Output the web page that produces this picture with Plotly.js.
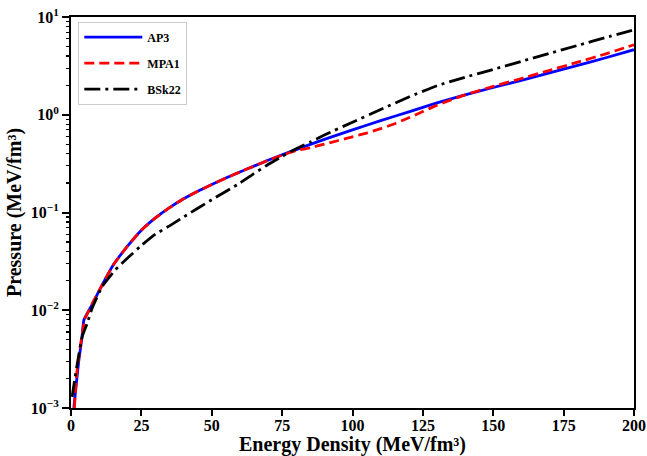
<!DOCTYPE html>
<html>
<head>
<meta charset="utf-8">
<script src="https://cdn.plot.ly/plotly-3.0.1.min.js"></script>
<style>html,body{margin:0;padding:0;background:#fff;}#chart{width:647px;height:456px;}</style>
</head>
<body>
<div id="chart"></div>
<script>
// Energy density (MeV/fm^3) and pressure (MeV/fm^3)
const ap3E = [1.0, 2.0, 2.8, 3.8, 4.6, 7.5, 11, 15, 20, 25, 30, 35, 40, 45, 50, 55, 60, 65, 70, 75, 80, 90, 100, 110, 120, 130, 140, 150, 160, 170, 180, 190, 200];
const ap3P = [0.001, 0.0019, 0.0031, 0.005, 0.008, 0.0114, 0.018, 0.029, 0.045, 0.066, 0.088, 0.112, 0.138, 0.165, 0.193, 0.225, 0.26, 0.298, 0.342, 0.39, 0.44, 0.56, 0.7, 0.87, 1.07, 1.32, 1.6, 1.9, 2.25, 2.68, 3.2, 3.83, 4.63];

const mpa1E = [1.2, 2.0, 3.0, 4.0, 5.0, 7.5, 11, 15, 20, 25, 30, 35, 40, 45, 50, 55, 60, 65, 70, 75, 80, 85, 90, 95, 100, 105, 110, 115, 120, 125, 130, 135, 140, 150, 160, 170, 180, 190, 200];
const mpa1P = [0.001, 0.0022, 0.0037, 0.0058, 0.0082, 0.0116, 0.018, 0.029, 0.045, 0.066, 0.088, 0.112, 0.138, 0.165, 0.193, 0.225, 0.26, 0.298, 0.342, 0.385, 0.43, 0.46, 0.5, 0.545, 0.595, 0.65, 0.72, 0.81, 0.93, 1.08, 1.25, 1.42, 1.6, 1.95, 2.35, 2.85, 3.45, 4.2, 5.2];

const bsk22E = [0.4, 1.25, 2.2, 4.0, 5.8, 7.5, 11.1, 15.8, 20, 25, 30, 35, 40, 50, 60, 65, 70, 75, 80, 85, 90, 100, 110, 120, 130, 140, 150, 160, 170, 180, 190, 200];
const bsk22P = [0.0013, 0.0019, 0.0028, 0.0054, 0.0074, 0.0105, 0.0175, 0.026, 0.034, 0.046, 0.06, 0.073, 0.09, 0.135, 0.2, 0.25, 0.31, 0.375, 0.45, 0.525, 0.62, 0.84, 1.13, 1.52, 1.98, 2.42, 2.91, 3.52, 4.25, 5.12, 6.17, 7.41];

const seriesNames = ['AP3', 'MPA1', 'BSk22'];
const xTickVals = [0, 25, 50, 75, 100, 125, 150, 175, 200];
const yTickVals = [0.001, 0.01, 0.1, 1, 10];
const yTickText = ['10<sup>\u22123</sup>', '10<sup>\u22122</sup>', '10<sup>\u22121</sup>', '10<sup>0</sup>', '10<sup>1</sup>'];
const yMinorVals = [];
[0.001, 0.01, 0.1, 1].forEach(d => { for (let k = 2; k <= 9; k++) yMinorVals.push(+(d * k).toPrecision(3)); });

const serif = 'Liberation Serif, Times New Roman, serif';

const traces = [
  // invisible carrier trace so the minor-tick overlay axis is drawn
  {x: ap3E, y: ap3P, yaxis: 'y2', showlegend: false, hoverinfo: 'skip', mode: 'lines',
   opacity: 0, line: {width: 0.1, color: 'rgba(0,0,0,0)'}},
  {x: ap3E, y: ap3P, name: seriesNames[0], legendgroup: 'a', mode: 'lines',
   line: {color: '#0000ff', width: 2.8, shape: 'spline', smoothing: 0.4}},
  {x: mpa1E, y: mpa1P, name: seriesNames[1], legendgroup: 'b', mode: 'lines',
   line: {color: '#ff0000', width: 2.8, dash: '10px,5px', shape: 'spline', smoothing: 0.4}},
  {x: bsk22E, y: bsk22P, name: seriesNames[2], legendgroup: 'c', mode: 'lines',
   line: {color: '#000000', width: 2.8, dash: '16px,5px,3px,5px', shape: 'spline', smoothing: 0.4}}
];

const layout = {
  width: 647, height: 456,
  margin: {l: 71, r: 13, t: 17, b: 48},
  paper_bgcolor: '#ffffff', plot_bgcolor: '#ffffff',
  font: {family: serif, color: '#000', size: 16},
  showlegend: true,
  legend: {x: 0.013, y: 0.988, xanchor: 'left', yanchor: 'top',
    bgcolor: '#ffffff', bordercolor: '#cccccc', borderwidth: 1,
    font: {family: serif, size: 12, color: '#000', weight: 'bold'},
    tracegroupgap: 7, itemwidth: 58},
  xaxis: {
    range: [0, 200], tickvals: xTickVals, ticks: 'outside', ticklen: 6, tickwidth: 2, tickcolor: '#000',
    ticklabelstandoff: -4,
    showline: true, linewidth: 2, linecolor: '#000', mirror: true, showgrid: false, zeroline: false,
    tickfont: {family: serif, size: 16, weight: 'bold'},
    title: {text: 'Energy Density (MeV/fm³)', font: {family: serif, size: 20, weight: 'bold'}, standoff: 0}
  },
  yaxis: {
    type: 'log', range: [-3, 1], tickvals: yTickVals, ticktext: yTickText,
    ticks: 'outside', ticklen: 7, tickwidth: 2, tickcolor: '#000',
    showline: true, linewidth: 2, linecolor: '#000', mirror: true, showgrid: false, zeroline: false,
    tickfont: {family: serif, size: 16, weight: 'bold'},
    title: {text: 'Pressure (MeV/fm³)', font: {family: serif, size: 20, weight: 'bold'}, standoff: 4}
  },
  yaxis2: {
    type: 'log', range: [-3, 1], overlaying: 'y', side: 'left', anchor: 'x',
    tickmode: 'array', tickvals: yMinorVals, showticklabels: false,
    ticks: 'outside', ticklen: 4, tickwidth: 1.2, tickcolor: '#000',
    showline: false, showgrid: false, zeroline: false
  }
};

Plotly.newPlot('chart', traces, layout, {displayModeBar: false, staticPlot: true});
</script>
</body>
</html>
